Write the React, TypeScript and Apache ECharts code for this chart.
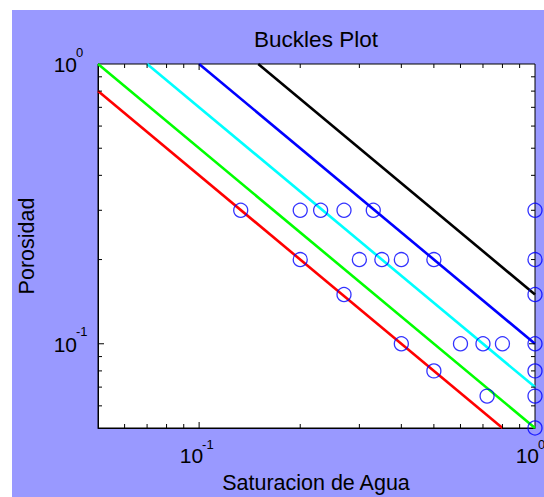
import React, { useEffect, useRef } from "react";
import * as echarts from "echarts";

// Buckles lines (Sw * phi = constant), endpoints
const redLine: number[][] = [[0.05, 0.8], [0.8, 0.05]];
const greenLine: number[][] = [[0.05, 1.0], [1.0, 0.05]];
const cyanLine: number[][] = [[0.07, 1.0], [1.0, 0.07]];
const blueLine: number[][] = [[0.1, 1.0], [1.0, 0.1]];
const blackLine: number[][] = [[0.15, 1.0], [1.0, 0.15]];

// Sample points: water saturation and porosity
const swValues = [0.133, 0.2, 0.23, 0.27, 0.33, 1.0, 0.2, 0.3, 0.35, 0.4, 0.5, 1.0, 0.27, 1.0, 0.4, 0.6, 0.7, 0.8, 1.0, 0.5, 1.0, 0.72, 1.0, 1.0];
const phiValues = [0.3, 0.3, 0.3, 0.3, 0.3, 0.3, 0.2, 0.2, 0.2, 0.2, 0.2, 0.2, 0.15, 0.15, 0.1, 0.1, 0.1, 0.1, 0.1, 0.08, 0.08, 0.065, 0.065, 0.05];

// Tick positions on both log axes, and the labelled decades
const tickValues = [0.06, 0.07, 0.08, 0.09, 0.1, 0.2, 0.3, 0.4, 0.5, 0.6, 0.7, 0.8, 0.9];
const labelValues = [0.1, 1];

const X_MIN = 0.05;
const X_MAX = 1;
const Y_MIN = 0.05;
const Y_MAX = 1;

const FONT = "'Liberation Sans', Arial, sans-serif";
const BASE_SIZE = 21;
const SUP_SIZE = 13;

function isPow10(v: number) {
  const e = Math.log10(v);
  return Math.abs(e - Math.round(e)) < 1e-6;
}

function expText(v: number) {
  return String(Math.round(Math.log10(v)));
}

export default function App() {
  const ref = useRef<HTMLDivElement>(null);
  useEffect(() => {
    if (!ref.current) return;
    const chart = echarts.init(ref.current, null, { renderer: "svg" });
    const lineSeries = (data: number[][], color: string) => ({
      type: "line",
      data,
      showSymbol: false,
      symbol: "none",
      lineStyle: { color, width: 2.6 },
      clip: true,
      silent: true,
      z: 3,
    });
    const tickStyle = { stroke: "#000", lineWidth: 1 };
    chart.setOption({
      animation: false,
      backgroundColor: "#9999ff",
      grid: {
        left: 86,
        top: 54,
        right: 9,
        bottom: 69,
        outerBoundsMode: "none",
        containLabel: false,
        show: true,
        backgroundColor: "#ffffff",
        borderColor: "#000000",
        borderWidth: 1,
      },
      xAxis: {
        type: "log",
        logBase: 10,
        min: X_MIN,
        max: X_MAX,
        axisLine: { show: true, lineStyle: { color: "#000", width: 1 } },
        axisTick: { show: false },
        splitLine: { show: false },
        axisLabel: { show: false },
      },
      yAxis: {
        type: "log",
        logBase: 10,
        min: Y_MIN,
        max: Y_MAX,
        axisLine: { show: true, lineStyle: { color: "#000", width: 1 } },
        axisTick: { show: false },
        splitLine: { show: false },
        axisLabel: { show: false },
      },
      graphic: [
        {
          type: "text",
          x: 304,
          y: 29,
          style: { text: "Buckles Plot", fontSize: 22.5, fontFamily: FONT, fill: "#000", align: "center", verticalAlign: "middle" },
        },
        {
          type: "text",
          x: 304,
          y: 473,
          style: { text: "Saturacion de Agua", fontSize: 21.5, fontFamily: FONT, fill: "#000", align: "center", verticalAlign: "middle" },
        },
        {
          type: "text",
          x: 15,
          y: 236,
          rotation: Math.PI / 2,
          style: { text: "Porosidad", fontSize: 21.5, fontFamily: FONT, fill: "#000", align: "center", verticalAlign: "middle" },
        },
      ],
      series: [
        lineSeries(redLine, "#ff0000"),
        lineSeries(greenLine, "#00ff00"),
        lineSeries(cyanLine, "#00ffff"),
        lineSeries(blueLine, "#0000ff"),
        lineSeries(blackLine, "#000000"),
        {
          type: "scatter",
          data: swValues.map((sw, i) => [sw, phiValues[i]]),
          symbol: "circle",
          symbolSize: 14,
          clip: false,
          itemStyle: { color: "rgba(0,0,0,0)", borderColor: "#0000ff", borderWidth: 1.3 },
          silent: true,
          z: 4,
        },
        // x ticks (bottom and top, pointing inward)
        {
          type: "custom",
          coordinateSystem: "cartesian2d",
          silent: true,
          clip: false,
          z: 5,
          data: tickValues.map((v) => [v, Y_MAX]),
          renderItem: (_p: any, api: any) => {
            const v = api.value(0);
            const top = api.coord([v, Y_MAX]);
            const bot = api.coord([v, Y_MIN]);
            const len = isPow10(v) ? 6 : 4;
            return {
              type: "group",
              children: [
                { type: "line", shape: { x1: bot[0], y1: bot[1], x2: bot[0], y2: bot[1] - len }, style: tickStyle },
                { type: "line", shape: { x1: top[0], y1: top[1], x2: top[0], y2: top[1] + len }, style: tickStyle },
              ],
            };
          },
        },
        // y ticks (left and right, pointing inward)
        {
          type: "custom",
          coordinateSystem: "cartesian2d",
          silent: true,
          clip: false,
          z: 5,
          data: tickValues.map((v) => [X_MIN, v]),
          renderItem: (_p: any, api: any) => {
            const v = api.value(1);
            const left = api.coord([X_MIN, v]);
            const right = api.coord([X_MAX, v]);
            const len = isPow10(v) ? 6 : 4;
            return {
              type: "group",
              children: [
                { type: "line", shape: { x1: left[0], y1: left[1], x2: left[0] + len, y2: left[1] }, style: tickStyle },
                { type: "line", shape: { x1: right[0], y1: right[1], x2: right[0] - len, y2: right[1] }, style: tickStyle },
              ],
            };
          },
        },
        // x decade labels (10 with superscript exponent)
        {
          type: "custom",
          coordinateSystem: "cartesian2d",
          silent: true,
          clip: false,
          z: 6,
          data: labelValues.map((v) => [v, Y_MIN]),
          renderItem: (_p: any, api: any) => {
            const v = api.value(0);
            const p = api.coord([v, Y_MIN]);
            return {
              type: "group",
              children: [
                { type: "text", x: p[0] + 4, y: p[1] + 27, style: { text: "10", fontSize: BASE_SIZE, fontFamily: FONT, fill: "#000", align: "right", verticalAlign: "middle" } },
                { type: "text", x: p[0] + 3, y: p[1] + 16, style: { text: expText(v), fontSize: SUP_SIZE, fontFamily: FONT, fill: "#000", align: "left", verticalAlign: "middle" } },
              ],
            };
          },
        },
        // y decade labels
        {
          type: "custom",
          coordinateSystem: "cartesian2d",
          silent: true,
          clip: false,
          z: 6,
          data: labelValues.map((v) => [X_MIN, v]),
          renderItem: (_p: any, api: any) => {
            const v = api.value(1);
            const p = api.coord([X_MIN, v]);
            return {
              type: "group",
              children: [
                { type: "text", x: p[0] - 21, y: p[1] + 0.5, style: { text: "10", fontSize: BASE_SIZE, fontFamily: FONT, fill: "#000", align: "right", verticalAlign: "middle" } },
                { type: "text", x: p[0] - 22, y: p[1] - 12, style: { text: expText(v), fontSize: SUP_SIZE, fontFamily: FONT, fill: "#000", align: "left", verticalAlign: "middle" } },
              ],
            };
          },
        },
      ],
    });
    return () => chart.dispose();
  }, []);
  return (
    <div style={{ position: "absolute", left: 0, top: 0, width: 544, height: 497, background: "#ffffff", overflow: "hidden" }}>
      <div ref={ref} style={{ position: "absolute", left: 12, top: 10, width: 532, height: 487 }} />
    </div>
  );
}
